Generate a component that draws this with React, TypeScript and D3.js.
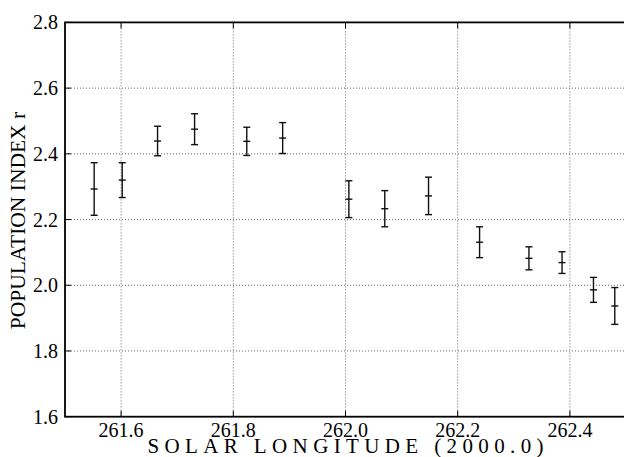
import { useRef, useEffect } from "react";
import * as d3 from "d3";

// solar longitude (2000.0), population index r, half error bar
const longitude = [261.552, 261.602, 261.665, 261.731, 261.824, 261.888, 262.006, 262.070, 262.148, 262.239, 262.327, 262.386, 262.442, 262.480];
const popIndex = [2.293, 2.320, 2.439, 2.475, 2.438, 2.448, 2.262, 2.233, 2.272, 2.131, 2.082, 2.069, 1.986, 1.937];
const errHalf = [0.080, 0.053, 0.045, 0.047, 0.043, 0.047, 0.056, 0.055, 0.057, 0.047, 0.035, 0.033, 0.038, 0.056];

const xTicks = [261.6, 261.8, 262.0, 262.2, 262.4];
const yTicks = [1.6, 1.8, 2.0, 2.2, 2.4, 2.6, 2.8];

export default function App() {
  const svgRef = useRef<SVGSVGElement>(null);

  useEffect(() => {
    if (!svgRef.current) return;
    const svg = d3.select(svgRef.current);
    svg.selectAll("*").remove();

    const width = 624;
    const height = 457;
    const left = 65, right = 626, top = 22.4, bottom = 416.7;
    const font = "'Liberation Serif', 'Times New Roman', serif";

    const x = d3.scaleLinear().domain([261.5, 262.5]).range([left, right]);
    const y = d3.scaleLinear().domain([1.6, 2.8]).range([bottom, top]);

    svg.attr("viewBox", `0 0 ${width} ${height}`);

    // dotted grid
    const grid = svg.append("g").attr("stroke", "#666").attr("stroke-width", 1).attr("stroke-dasharray", "1,2");
    xTicks.forEach(t => {
      grid.append("line").attr("x1", x(t)).attr("x2", x(t)).attr("y1", top).attr("y2", bottom);
    });
    yTicks.slice(1, -1).forEach(t => {
      grid.append("line").attr("x1", left).attr("x2", right).attr("y1", y(t)).attr("y2", y(t));
    });

    // inward ticks
    const ticks = svg.append("g").attr("stroke", "#000").attr("stroke-width", 1);
    xTicks.forEach(t => {
      ticks.append("line").attr("x1", x(t)).attr("x2", x(t)).attr("y1", bottom).attr("y2", bottom - 6);
      ticks.append("line").attr("x1", x(t)).attr("x2", x(t)).attr("y1", top).attr("y2", top + 6);
    });
    yTicks.forEach(t => {
      ticks.append("line").attr("x1", left).attr("x2", left + 6).attr("y1", y(t)).attr("y2", y(t));
    });

    // frame
    svg.append("rect")
      .attr("x", left).attr("y", top)
      .attr("width", right - left).attr("height", bottom - top)
      .attr("fill", "none").attr("stroke", "#000").attr("stroke-width", 1.8);

    // tick labels
    svg.append("g").selectAll("text").data(xTicks).join("text")
      .attr("x", d => x(d)).attr("y", 437)
      .attr("text-anchor", "middle")
      .attr("font-family", font).attr("font-size", 20)
      .text(d => d.toFixed(1));

    svg.append("g").selectAll("text").data(yTicks).join("text")
      .attr("x", 58).attr("y", d => y(d))
      .attr("dy", "0.35em")
      .attr("text-anchor", "end")
      .attr("font-family", font).attr("font-size", 20)
      .text(d => d.toFixed(1));

    // error bars
    const cap = 3.5;
    const bars = svg.append("g").attr("stroke", "#111").attr("stroke-width", 1.4);
    longitude.forEach((lon, i) => {
      const cx = x(lon);
      const y0 = y(popIndex[i] - errHalf[i]);
      const y1 = y(popIndex[i] + errHalf[i]);
      const yc = y(popIndex[i]);
      bars.append("line").attr("x1", cx).attr("x2", cx).attr("y1", y0).attr("y2", y1);
      bars.append("line").attr("x1", cx - cap).attr("x2", cx + cap).attr("y1", y0).attr("y2", y0);
      bars.append("line").attr("x1", cx - cap).attr("x2", cx + cap).attr("y1", y1).attr("y2", y1);
      bars.append("line").attr("x1", cx - cap).attr("x2", cx + cap).attr("y1", yc).attr("y2", yc);
    });

    // axis titles
    svg.append("text")
      .attr("x", (left + right) / 2).attr("y", 453)
      .attr("text-anchor", "middle")
      .attr("font-family", font).attr("font-size", 21)
      .attr("textLength", 396).attr("lengthAdjust", "spacing")
      .text("SOLAR LONGITUDE (2000.0)");

    svg.append("text")
      .attr("transform", `translate(25,${(top + bottom) / 2 + 1}) rotate(-90)`)
      .attr("text-anchor", "middle")
      .attr("font-family", font).attr("font-size", 21.5)
      .text("POPULATION INDEX r");
  }, []);

  return (
    <svg
      ref={svgRef}
      width={624}
      height={457}
      style={{ position: "absolute", left: 0, top: 0, background: "#fff" }}
    />
  );
}
